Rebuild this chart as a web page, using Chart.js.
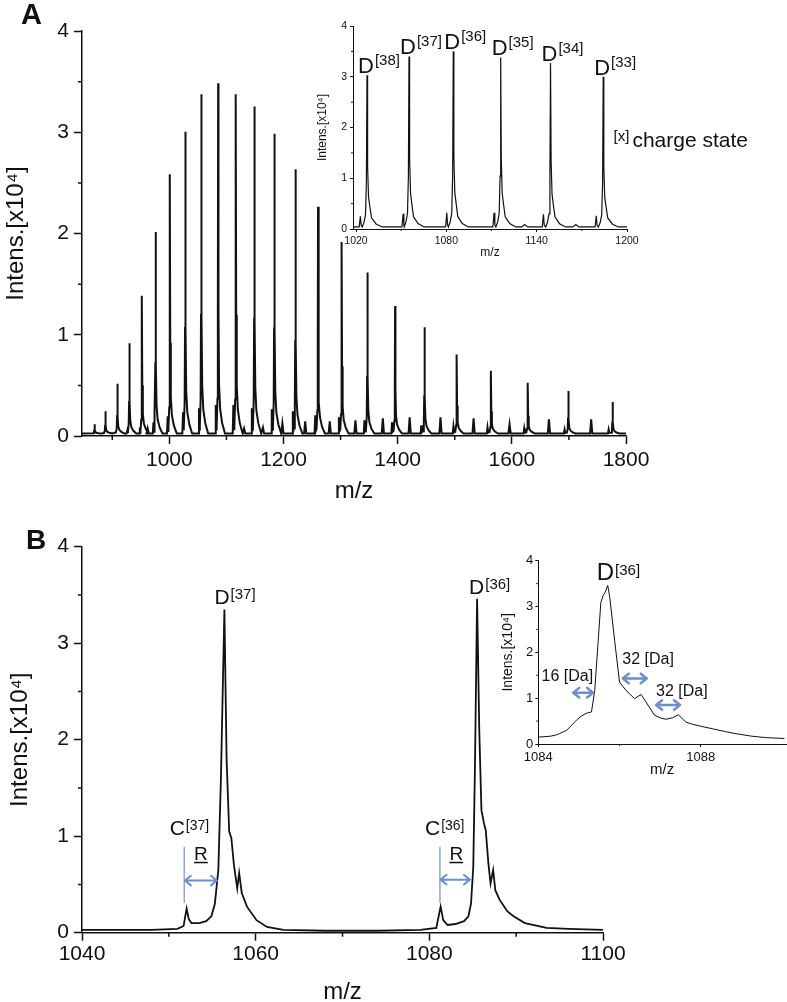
<!DOCTYPE html>
<html>
<head>
<meta charset="utf-8">
<script src="https://cdn.jsdelivr.net/npm/chart.js@4.4.1/dist/chart.umd.min.js"></script>
<style>
  html, body { margin: 0; padding: 0; background: #fff; }
  #page { position: relative; width: 787px; height: 1002px; overflow: hidden; }
  canvas { position: absolute; }
  .tag { position: absolute; font-family: 'Liberation Sans', Arial, sans-serif; font-weight: bold; color: #111; }
</style>
</head>
<body>
<div id="page">
  <canvas id="aMain" width="660" height="510" style="left:0px;top:0px"></canvas>
  <canvas id="aInset" width="477" height="265" style="left:310px;top:0px"></canvas>
  <canvas id="bMain" width="640" height="492" style="left:0px;top:510px"></canvas>
  <canvas id="bInset" width="307" height="240" style="left:480px;top:540px"></canvas>
  <div class="tag" style="left:21px;top:0px;font-size:29px;line-height:29px">A</div>
  <div class="tag" style="left:26px;top:526px;font-size:28px;line-height:28px">B</div>
</div>
<script>
const FONT = "'Liberation Sans', Arial, sans-serif";
const INK = "#111";
const BLUE = "#6f8fcc";
const BLUE_LIGHT = "#8ea7d8";

// Panel A - full charge state envelope (D peaks), m/z and intensity x10^4
const aMainMz  = [869, 888, 909, 930, 952, 976, 1001, 1028, 1056, 1085.5, 1116.5, 1149, 1184, 1221, 1260.5, 1302, 1347, 1395.5, 1447, 1503.5, 1563.5, 1628, 1699, 1776.5];
const aMainInt = [0.09, 0.22, 0.49, 0.89, 1.36, 1.99, 2.56, 2.98, 3.35, 3.46, 3.35, 3.23, 2.96, 2.61, 2.24, 1.89, 1.59, 1.26, 1.05, 0.78, 0.62, 0.50, 0.42, 0.31];
// small C peaks just left of each D peak
const aSatMz  = [926.4, 948.3, 972.2, 997.1, 1024, 1051.9, 1081.3, 1112.2, 1144.5, 1179.4, 1216.3, 1255.6, 1297, 1341.8, 1390.1, 1441.4, 1497.7, 1557.4, 1621.7, 1692.4, 1769.6];
const aSatInt = [0.03, 0.06, 0.11, 0.17, 0.21, 0.25, 0.28, 0.28, 0.25, 0.24, 0.22, 0.18, 0.16, 0.13, 0.11, 0.08, 0.07, 0.06, 0.05, 0.04, 0.04];
// minor series between the D peaks
const aMidMz  = [962, 1131, 1164, 1198, 1238, 1281, 1326, 1374, 1421, 1475, 1533, 1596, 1665, 1739];
const aMidInt = [0.05, 0.05, 0.06, 0.10, 0.12, 0.12, 0.13, 0.15, 0.16, 0.16, 0.15, 0.09, 0.14, 0.14];
const aXTicks = [1000, 1200, 1400, 1600, 1800];
const aXMinor = [900, 1100, 1300, 1500, 1700];
const yTicks = [0, 1, 2, 3, 4];
const yMinor = [0.5, 1.5, 2.5, 3.5];

// Panel A inset - zoom 1020-1200
const aInsetMz     = [1027.3, 1055.2, 1084.6, 1116.1, 1149.2, 1184.2];
const aInsetInt    = [2.99, 3.36, 3.46, 3.34, 3.23, 2.96];
const aInsetCharge = ["38", "37", "36", "35", "34", "33"];
const aInsetSatMz  = [1022.9, 1051.3, 1080.3, 1111.7, 1144.5, 1179.6];
const aInsetSatInt = [0.21, 0.26, 0.28, 0.28, 0.25, 0.22];
const aInsetMidMz  = [1132, 1166];
const aInsetMidInt = [0.05, 0.05];
const aInsetXTicks = [1020, 1080, 1140, 1200];
const aInsetXMinor = [1050, 1110, 1170];

// Panel B - D[37] / D[36] region
const bMz  = [1040, 1044, 1048, 1051, 1051.7, 1052.05, 1052.3, 1052.6, 1053.5, 1054.3, 1054.9, 1055.3, 1055.7, 1056.0, 1056.4, 1056.65, 1056.95, 1057.2, 1057.5, 1057.88, 1058.1, 1058.4, 1059, 1060.1, 1061.3, 1063.2, 1068, 1074, 1079, 1080.8, 1081.3, 1081.6, 1082.1, 1083, 1084, 1084.5, 1084.8, 1085.06, 1085.25, 1085.5, 1085.75, 1086.0, 1086.3, 1086.5, 1086.8, 1087.05, 1087.35, 1087.6, 1088.1, 1089, 1089.7, 1091, 1093.5, 1096, 1100];
const bInt = [0.03, 0.03, 0.03, 0.04, 0.07, 0.25, 0.14, 0.10, 0.10, 0.12, 0.17, 0.30, 0.65, 1.6, 3.35, 1.8, 1.05, 0.98, 0.70, 0.46, 0.62, 0.41, 0.27, 0.13, 0.06, 0.03, 0.02, 0.02, 0.03, 0.05, 0.27, 0.13, 0.08, 0.09, 0.12, 0.17, 0.30, 0.68, 1.7, 3.46, 2.1, 1.27, 1.13, 1.06, 0.72, 0.51, 0.65, 0.44, 0.34, 0.22, 0.17, 0.10, 0.05, 0.04, 0.03];
const bXTicks = [1040, 1060, 1080, 1100];
const bXMinor = [1050, 1070, 1090];

// Panel B inset - D[36] fine structure
const bInsetMz  = [1084, 1084.3, 1084.45, 1084.53, 1084.7, 1084.94, 1085.06, 1085.18, 1085.31, 1085.39, 1085.47, 1085.54, 1085.6, 1085.64, 1085.71, 1085.76, 1085.88, 1086.0, 1086.16, 1086.37, 1086.53, 1086.65, 1086.86, 1087.0, 1087.14, 1087.3, 1087.45, 1087.63, 1087.8, 1088.04, 1088.3, 1088.61, 1088.9, 1089.26, 1089.6, 1090.06];
const bInsetInt = [0.15, 0.17, 0.20, 0.23, 0.30, 0.52, 0.61, 0.67, 0.70, 1.17, 2.19, 3.09, 3.25, 3.30, 3.46, 3.20, 2.26, 1.35, 1.17, 0.99, 1.08, 0.92, 0.63, 0.57, 0.54, 0.57, 0.64, 0.48, 0.43, 0.38, 0.33, 0.27, 0.22, 0.17, 0.14, 0.12];
const bInsetXTicks = [1084, 1088];
const bInsetXMinor = [1086];

// peak outlines (m/z offset, fraction of peak height)
const mainShape     = [[-2.6, 0.02], [-1.2, 0.1], [-0.5, 0.35], [0, 1], [0.6, 0.35], [1.6, 0.14], [3.5, 0.07], [7, 0.03], [12, 0]];
const satShape      = [[-1.2, 0], [0, 1], [1.2, 0.15]];
const smallShape    = [[-2, 0], [0, 1], [2, 0]];
const insetShape    = [[-3.2, 0], [-2, 0.03], [-1, 0.08], [-0.4, 0.3], [0, 1], [0.4, 0.4], [1, 0.2], [1.8, 0.14], [3, 0.06], [6, 0.02], [10, 0]];
const insetSatShape = [[-0.8, 0], [0, 1], [0.5, 0.15]];

function spectrum(groups, base, xMin, xMax) {
  const peaks = [];
  groups.forEach(([mzs, ints, shape]) => mzs.forEach((m, i) => peaks.push({ m, h: ints[i], shape })));
  peaks.sort((a, b) => a.m - b.m);
  const pts = [{ x: xMin, y: base }];
  peaks.forEach(p => p.shape.forEach(([dx, f]) => pts.push({ x: p.m + dx, y: base + p.h * f })));
  pts.push({ x: xMax, y: base });
  return pts;
}

function pairs(xs, ys) {
  return xs.map((x, i) => ({ x, y: ys[i] }));
}

// short ticks between the labelled ones
const minorTicks = {
  id: "minorTicks",
  afterDraw(chart, args, opts) {
    const { ctx, scales: { x, y } } = chart;
    ctx.save();
    ctx.strokeStyle = INK;
    ctx.lineWidth = opts.width;
    ctx.beginPath();
    (opts.x || []).forEach(v => {
      const px = x.getPixelForValue(v);
      ctx.moveTo(px, x.top);
      ctx.lineTo(px, x.top + opts.len);
    });
    (opts.y || []).forEach(v => {
      const py = y.getPixelForValue(v);
      ctx.moveTo(y.right, py);
      ctx.lineTo(y.right - opts.len, py);
    });
    ctx.stroke();
    ctx.restore();
  }
};

// peak labels, arrows and markers placed in data units
const notes = {
  id: "notes",
  afterDatasetsDraw(chart, args, opts) {
    const { ctx, scales: { x, y } } = chart;
    ctx.save();
    (opts.items || []).forEach(it => {
      const px = x.getPixelForValue(it.x) + (it.dx || 0);
      const py = y.getPixelForValue(it.y) + (it.dy || 0);
      ctx.fillStyle = it.color || INK;
      ctx.strokeStyle = it.color || INK;
      ctx.textBaseline = "alphabetic";
      ctx.textAlign = "left";
      if (it.type === "ion") {
        ctx.font = `${it.size}px ${FONT}`;
        ctx.fillText(it.letter, px, py);
        const w = ctx.measureText(it.letter).width;
        ctx.font = `${it.supSize}px ${FONT}`;
        ctx.fillText(`[${it.charge}]`, px + w + 1, py - it.raise);
      } else if (it.type === "lead") {
        ctx.font = `${it.supSize}px ${FONT}`;
        ctx.fillText(it.sup, px, py - it.raise);
        const w = ctx.measureText(it.sup).width;
        ctx.font = `${it.size}px ${FONT}`;
        ctx.fillText(it.text, px + w + it.gap, py);
      } else if (it.type === "text") {
        ctx.textAlign = it.align || "left";
        ctx.font = `${it.size}px ${FONT}`;
        ctx.fillText(it.text, px, py);
        if (it.underline) {
          const w = ctx.measureText(it.text).width;
          const x0 = it.align === "center" ? px - w / 2 : px;
          ctx.lineWidth = 1.5;
          ctx.beginPath();
          ctx.moveTo(x0, py + 2.5);
          ctx.lineTo(x0 + w, py + 2.5);
          ctx.stroke();
        }
      } else if (it.type === "vline") {
        ctx.lineWidth = it.width || 1.5;
        ctx.beginPath();
        ctx.moveTo(px, py);
        ctx.lineTo(px, y.getPixelForValue(it.y2));
        ctx.stroke();
      } else if (it.type === "arrow") {
        const x2 = x.getPixelForValue(it.x2);
        const hl = it.head || 6, hw = hl * 0.8;
        ctx.lineWidth = it.width || 2;
        ctx.lineCap = "round";
        ctx.lineJoin = "round";
        ctx.beginPath();
        ctx.moveTo(px, py); ctx.lineTo(x2, py);
        ctx.moveTo(px + hl, py - hw); ctx.lineTo(px, py); ctx.lineTo(px + hl, py + hw);
        ctx.moveTo(x2 - hl, py - hw); ctx.lineTo(x2, py); ctx.lineTo(x2 - hl, py + hw);
        ctx.stroke();
      }
    });
    ctx.restore();
  }
};

function axes(o) {
  const tickFont = { family: FONT, size: o.tickSize };
  const border = { display: true, color: INK, width: o.axisWidth };
  const grid = { display: true, drawOnChartArea: false, drawTicks: true, tickLength: o.tickLen, tickWidth: o.axisWidth, tickColor: INK };
  return {
    x: {
      type: "linear", min: o.xMin, max: o.xMax,
      border, grid,
      ticks: { font: tickFont, color: INK, padding: o.xPad, autoSkip: false, maxRotation: 0, callback: v => String(v) },
      afterBuildTicks: s => { s.ticks = o.xTicks.map(v => ({ value: v })); },
      afterFit: s => { s.height = o.xHeight; },
      title: { display: true, text: "m/z", color: INK, font: { family: FONT, size: o.xTitleSize, lineHeight: o.xTitleLH || 1.2 }, padding: { top: 0, bottom: o.xTitlePad } }
    },
    y: {
      type: "linear", min: 0, max: 4,
      border, grid,
      ticks: { font: tickFont, color: INK, padding: o.yPad, autoSkip: false, callback: v => String(v) },
      afterBuildTicks: s => { s.ticks = yTicks.map(v => ({ value: v })); },
      afterFit: s => { s.width = o.yWidth; },
      title: { display: true, text: "Intens.[x10⁴]", color: INK, font: { family: FONT, size: o.yTitleSize, lineHeight: 1.2 }, padding: { top: o.yTitlePad, bottom: 0 } }
    }
  };
}

function makeChart(id, data, lineWidth, padding, scaleOpts, minor, items) {
  return new Chart(document.getElementById(id), {
    type: "line",
    data: { datasets: [{ data, borderColor: INK, borderWidth: lineWidth, pointRadius: 0, tension: 0, fill: false }] },
    options: {
      responsive: false,
      animation: false,
      events: [],
      layout: { padding },
      plugins: {
        legend: { display: false },
        tooltip: { enabled: false },
        minorTicks: minor,
        notes: { items }
      },
      scales: axes(scaleOpts)
    },
    plugins: [minorTicks, notes]
  });
}

// Panel A
makeChart("aMain",
  spectrum([[aMainMz, aMainInt, mainShape], [aSatMz, aSatInt, satShape], [aMidMz, aMidInt, smallShape]], 0.025, 847, 1800),
  2, { left: 0, top: 31, right: 34, bottom: 0 },
  { xMin: 847, xMax: 1800, xTicks: aXTicks, tickSize: 21, axisWidth: 1.5, tickLen: 8, xPad: 4, xHeight: 74,
    xTitleSize: 24, xTitlePad: 4.6, yPad: 5, yWidth: 82, yTitleSize: 24, yTitlePad: 2 },
  { x: aXMinor, y: yMinor, len: 4, width: 1.5 }, []);

// Panel A inset
const aInsetLabels = aInsetMz.map((m, i) => ({
  type: "ion", letter: "D", charge: aInsetCharge[i], x: m, y: aInsetInt[i], dx: -9, dy: -4, size: 22, supSize: 15, raise: 8
}));
aInsetLabels.push({ type: "lead", sup: "[x]", text: "charge state", x: 1191.1, y: 1.616, size: 21, supSize: 15, raise: 6, gap: 3 });

makeChart("aInset",
  spectrum([[aInsetMz, aInsetInt, insetShape], [aInsetSatMz, aInsetSatInt, insetSatShape], [aInsetMidMz, aInsetMidInt, smallShape]], 0.04, 1018, 1200),
  1.2, { left: 0, top: 26, right: 160, bottom: 0 },
  { xMin: 1018, xMax: 1200, xTicks: aInsetXTicks, tickSize: 10.5, axisWidth: 1, tickLen: 3, xPad: 2.4, xHeight: 36,
    xTitleSize: 12, xTitlePad: 4.8, yPad: 3, yWidth: 43, yTitleSize: 12, yTitlePad: 5 },
  { x: aInsetXMinor, y: yMinor, len: 2, width: 1 }, aInsetLabels);

// Panel B
makeChart("bMain", pairs(bMz, bInt),
  1.8, { left: 0, top: 36.7, right: 37, bottom: 0 },
  { xMin: 1040, xMax: 1100, xTicks: bXTicks, tickSize: 21, axisWidth: 1.5, tickLen: 8, xPad: 1, xHeight: 69.3,
    xTitleSize: 24, xTitleLH: 0.8, xTitlePad: 0, yPad: 5, yWidth: 82, yTitleSize: 24, yTitlePad: 5.6 },
  { x: bXMinor, y: yMinor, len: 4, width: 1.5 },
  [
    { type: "ion", letter: "D", charge: "37", x: 1056.4, y: 3.35, dx: -10, dy: -5, size: 21, supSize: 15, raise: 5 },
    { type: "ion", letter: "D", charge: "36", x: 1085.5, y: 3.46, dx: -8, dy: -5, size: 21, supSize: 15, raise: 5 },
    { type: "ion", letter: "C", charge: "37", x: 1050.1, y: 1.01, size: 21, supSize: 14, raise: 5 },
    { type: "ion", letter: "C", charge: "36", x: 1079.5, y: 1.01, size: 21, supSize: 14, raise: 5 },
    { type: "text", text: "R", x: 1053.7, y: 0.753, align: "center", size: 19, underline: true },
    { type: "text", text: "R", x: 1083.1, y: 0.753, align: "center", size: 19, underline: true },
    { type: "vline", x: 1051.78, y: 0.89, y2: 0.31, color: BLUE_LIGHT, width: 1.5 },
    { type: "vline", x: 1081.22, y: 0.89, y2: 0.31, color: BLUE_LIGHT, width: 1.5 },
    { type: "arrow", x: 1051.85, x2: 1055.54, y: 0.54, color: BLUE, width: 2, head: 6 },
    { type: "arrow", x: 1081.3, x2: 1084.67, y: 0.55, color: BLUE, width: 2, head: 6 }
  ]);

// Panel B inset
makeChart("bInset", pairs(bInsetMz, bInsetInt),
  1, { left: 0, top: 20.7, right: 1, bottom: 0 },
  { xMin: 1084, xMax: 1090.1, xTicks: bInsetXTicks, tickSize: 13, axisWidth: 1, tickLen: 3, xPad: 2.7, xHeight: 36,
    xTitleSize: 15, xTitlePad: 1, yPad: 2, yWidth: 58.3, yTitleSize: 14, yTitlePad: 20 },
  { x: bInsetXMinor, y: yMinor, len: 2, width: 1 },
  [
    { type: "ion", letter: "D", charge: "36", x: 1085.71, y: 3.46, dx: -11, dy: -5, size: 24, supSize: 15, raise: 5 },
    { type: "text", text: "16 [Da]", x: 1084.08, y: 1.37, size: 16 },
    { type: "arrow", x: 1084.86, x2: 1085.35, y: 1.12, color: BLUE, width: 2.5, head: 6 },
    { type: "text", text: "32 [Da]", x: 1086.07, y: 1.74, size: 16 },
    { type: "arrow", x: 1086.08, x2: 1086.67, y: 1.43, color: BLUE, width: 2.5, head: 6 },
    { type: "text", text: "32 [Da]", x: 1086.9, y: 1.04, size: 16 },
    { type: "arrow", x: 1086.9, x2: 1087.49, y: 0.85, color: BLUE, width: 2.5, head: 6 }
  ]);
</script>
</body>
</html>
